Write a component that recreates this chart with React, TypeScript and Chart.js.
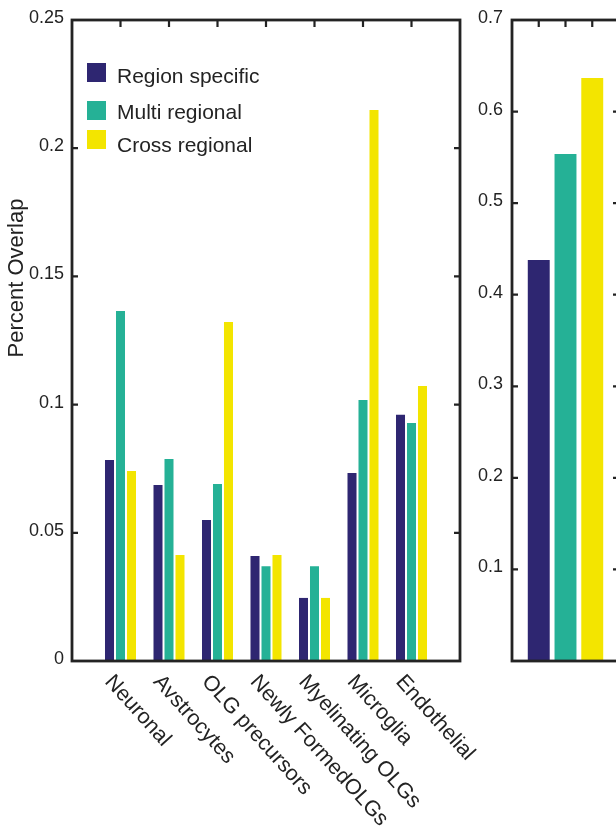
import React, { useEffect, useRef } from "react";
import { Chart, registerables } from "chart.js";

Chart.register(...registerables);

// ---- data ----
const cellTypes = [
  "Neuronal",
  "Avstrocytes",
  "OLG precursors",
  "Newly FormedOLGs",
  "Myelinating OLGs",
  "Microglia",
  "Endothelial",
];
const seriesNames = ["Region specific", "Multi regional", "Cross regional"];
const regionSpecific = [0.0784, 0.0686, 0.055, 0.041, 0.0246, 0.0733, 0.096];
const multiRegional = [0.1365, 0.0788, 0.069, 0.037, 0.037, 0.1018, 0.0928];
const crossRegional = [0.0741, 0.0413, 0.1322, 0.0413, 0.0246, 0.2149, 0.1073];
const overallOverlap = [0.438, 0.5537, 0.6367];
const leftTickValues = [0, 0.05, 0.1, 0.15, 0.2, 0.25];
const rightTickValues = [0.1, 0.2, 0.3, 0.4, 0.5, 0.6, 0.7];
const yAxisTitle = "Percent Overlap";

// ---- style ----
const FONT = "'Liberation Sans', Arial, Helvetica, sans-serif";
const INK = "#232323";
const seriesColors = ["#2E2671", "#25B196", "#F3E500"];

const seriesValues = [regionSpecific, multiRegional, crossRegional];

// frame with inward tick marks (left, right and top)
const framePlugin = (xTickIdx: number[], yTicks: number[]) => ({
  id: "frame",
  afterDatasetsDraw(chart: any) {
    const { ctx, chartArea } = chart;
    const { left, right, top, bottom } = chartArea;
    const xs = chart.scales.x;
    const ys = chart.scales.y;
    ctx.save();
    ctx.strokeStyle = INK;
    ctx.lineWidth = 2.2;
    ctx.beginPath();
    for (const v of yTicks) {
      const py = ys.getPixelForValue(v);
      ctx.moveTo(left, py);
      ctx.lineTo(left + 6, py);
      ctx.moveTo(right, py);
      ctx.lineTo(right - 6, py);
    }
    for (const i of xTickIdx) {
      const px = xs.getPixelForValue(i);
      ctx.moveTo(px, top);
      ctx.lineTo(px, top + 7);
    }
    ctx.stroke();
    ctx.lineWidth = 2.8;
    ctx.strokeRect(left, top, right - left, bottom - top);
    ctx.restore();
  },
});

// in-plot legend, rotated category labels and axis title
const annotationPlugin = {
  id: "annotations",
  afterDraw(chart: any) {
    const { ctx } = chart;
    const xs = chart.scales.x;
    ctx.save();
    ctx.fillStyle = INK;

    // legend
    const boxTops = [63, 101, 130];
    const baselines = [83, 119, 152];
    ctx.font = `21px ${FONT}`;
    ctx.textAlign = "left";
    ctx.textBaseline = "alphabetic";
    seriesNames.forEach((name, i) => {
      ctx.fillStyle = seriesColors[i];
      ctx.fillRect(87, boxTops[i], 19, 19);
      ctx.fillStyle = INK;
      ctx.fillText(name, 117, baselines[i]);
    });

    // rotated category labels
    const fs = 21.5;
    ctx.font = `${fs}px ${FONT}`;
    cellTypes.forEach((label, i) => {
      const px = xs.getPixelForValue(i + 1);
      ctx.save();
      ctx.translate(px - 5, chart.chartArea.bottom + 11);
      ctx.rotate((48 * Math.PI) / 180);
      ctx.fillText(label, 0, fs * 0.72);
      ctx.restore();
    });

    // y axis title
    ctx.font = `22px ${FONT}`;
    ctx.textAlign = "center";
    ctx.textBaseline = "middle";
    ctx.translate(17, 278);
    ctx.rotate(-Math.PI / 2);
    ctx.fillText(yAxisTitle, 0, 0);

    ctx.restore();
  },
};

const tickFormat = (v: any) => String(Number(Number(v).toFixed(3)));

function LeftPanel() {
  const ref = useRef<HTMLCanvasElement>(null);
  useEffect(() => {
    const labels = ["", ...cellTypes, ""];
    const chart = new Chart(ref.current as HTMLCanvasElement, {
      type: "bar",
      data: {
        labels,
        datasets: seriesNames.map((name, i) => ({
          label: name,
          data: [null, ...seriesValues[i], null],
          backgroundColor: seriesColors[i],
          borderWidth: 0,
          categoryPercentage: 0.68,
          barPercentage: 0.82,
        })),
      },
      options: {
        animation: false,
        responsive: false,
        layout: { padding: { left: 0, top: 20, right: 30, bottom: 170 } },
        plugins: { legend: { display: false }, tooltip: { enabled: false } },
        scales: {
          x: { type: "category", offset: false, display: false, grid: { display: false } },
          y: {
            min: 0,
            max: 0.25,
            afterBuildTicks: (s: any) => {
              s.ticks = leftTickValues.map((v) => ({ value: v }));
            },
            afterFit: (s: any) => {
              s.width = 72;
            },
            grid: { display: false, drawTicks: false },
            border: { display: false },
            ticks: {
              padding: 8,
              labelOffset: -2,
              color: INK,
              font: { size: 18, family: FONT },
              callback: (v: any) => tickFormat(v),
            },
          },
        },
      } as any,
      plugins: [framePlugin([1, 2, 3, 4, 5, 6, 7], leftTickValues), annotationPlugin],
    });
    return () => chart.destroy();
  }, []);
  return (
    <canvas
      ref={ref}
      width={490}
      height={831}
      style={{ position: "absolute", left: 0, top: 0, width: 490, height: 831 }}
    />
  );
}

function RightPanel() {
  const ref = useRef<HTMLCanvasElement>(null);
  useEffect(() => {
    const labels = ["", ...seriesNames, ""];
    const chart = new Chart(ref.current as HTMLCanvasElement, {
      type: "bar",
      data: {
        labels,
        datasets: [
          {
            label: "Overall",
            data: [null, ...overallOverlap, null],
            backgroundColor: ["rgba(0,0,0,0)", ...seriesColors, "rgba(0,0,0,0)"],
            borderWidth: 0,
            categoryPercentage: 1,
            barPercentage: 0.82,
          },
        ],
      },
      options: {
        animation: false,
        responsive: false,
        layout: { padding: { left: 0, top: 20, right: 21, bottom: 170 } },
        plugins: { legend: { display: false }, tooltip: { enabled: false } },
        scales: {
          x: { type: "category", offset: false, display: false, grid: { display: false } },
          y: {
            min: 0,
            max: 0.7,
            afterBuildTicks: (s: any) => {
              s.ticks = rightTickValues.map((v) => ({ value: v }));
            },
            afterFit: (s: any) => {
              s.width = 72;
            },
            grid: { display: false, drawTicks: false },
            border: { display: false },
            ticks: {
              padding: 9,
              labelOffset: -2,
              color: INK,
              font: { size: 18, family: FONT },
              callback: (v: any) => tickFormat(v),
            },
          },
        },
      } as any,
      plugins: [framePlugin([1, 2, 3], rightTickValues)],
    });
    return () => chart.destroy();
  }, []);
  return (
    <canvas
      ref={ref}
      width={200}
      height={831}
      style={{ position: "absolute", left: 440, top: 0, width: 200, height: 831 }}
    />
  );
}

export default function App() {
  return (
    <div
      style={{
        position: "absolute",
        left: 0,
        top: 0,
        width: 616,
        height: 831,
        overflow: "hidden",
        background: "#ffffff",
      }}
    >
      <LeftPanel />
      <RightPanel />
    </div>
  );
}
